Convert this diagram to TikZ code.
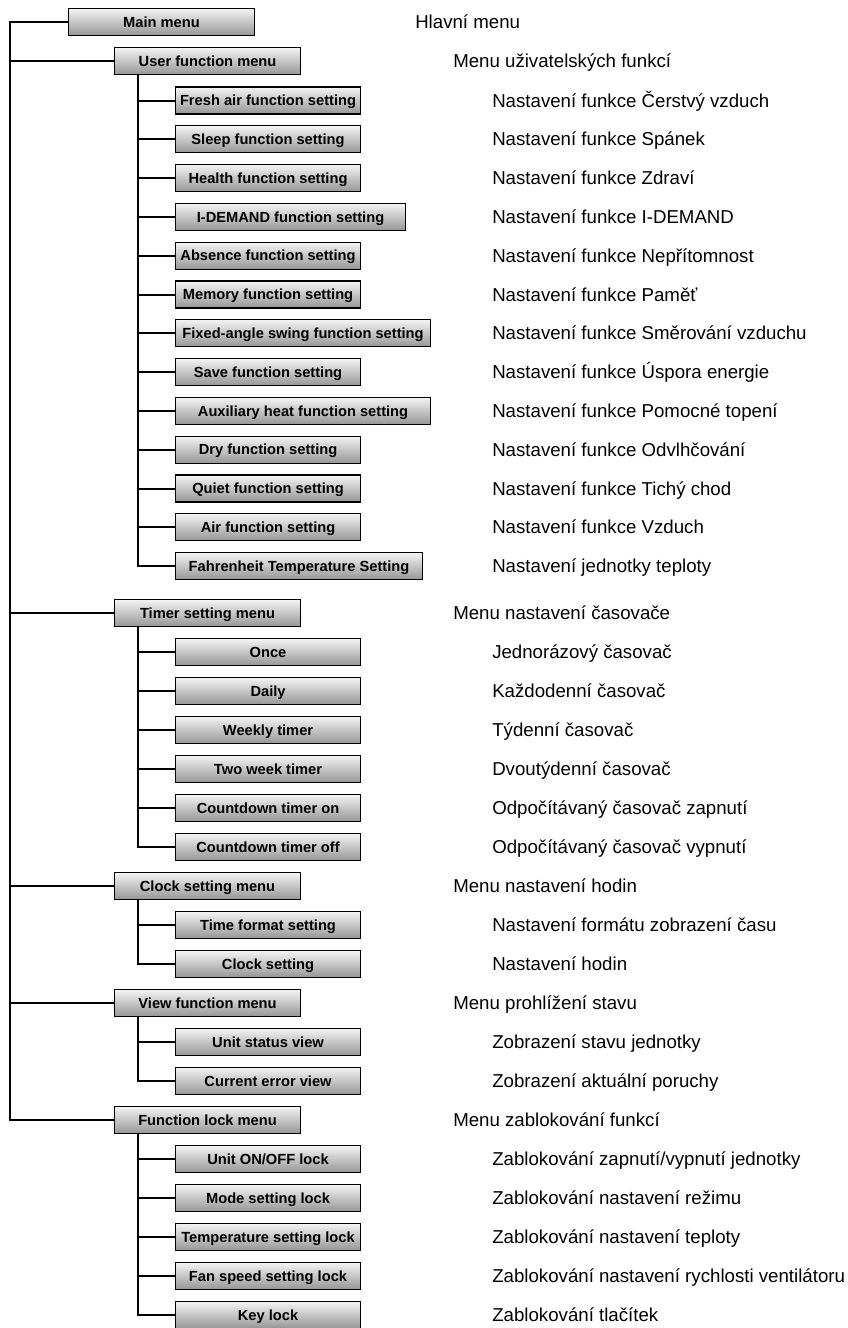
\documentclass[tikz,border=0pt]{standalone}
\usepackage{fontspec}
\setmainfont{Liberation Sans}
\usetikzlibrary{positioning,calc}
\definecolor{BoxTop}{RGB}{244,244,244}
\definecolor{BoxMid}{RGB}{222,222,222}
\definecolor{BoxBottom}{RGB}{150,150,150}
\tikzset{%
  menubox/.style={%
    draw=black, line width=0.8pt, anchor=west,
    top color=BoxTop, middle color=BoxMid, bottom color=BoxBottom,
    minimum height=20.25pt, minimum width=139.5pt, inner sep=0pt,
    text height=7.9pt, text depth=0pt, text centered,
    font=\bfseries\fontsize{11}{13}\selectfont
  },
  subbox/.style={menubox, minimum width=138.75pt},
  desc/.style={anchor=base west, yshift=-5pt, inner sep=0pt,
    font=\fontsize{14}{16}\selectfont},
  link/.style={line width=1.5pt},
}

\begin{document}
\begin{tikzpicture}[x=0.75pt, y=-0.75pt]
    \useasboundingbox (0,0) rectangle (847,1328);

    % first level menus
    \node (main)[menubox] at (68,22) {Main menu};
    \node (user)[menubox] at (114,61) {User function menu};
    \node (timer)[menubox] at (114,613) {Timer setting menu};
    \node (clock)[menubox] at (114,886) {Clock setting menu};
    \node (view)[menubox] at (114,1003) {View function menu};
    \node (lock)[menubox] at (114,1120) {Function lock menu};

    \node (main-cz)[desc] at (415,22) {Hlavní menu};
    \foreach \m/\ry/\cz in {user/61/Menu uživatelských funkcí,
        timer/613/Menu nastavení časovače,
        clock/886/Menu nastavení hodin,
        view/1003/Menu prohlížení stavu,
        lock/1120/Menu zablokování funkcí}
        \node (\m-cz)[desc] at (453,\ry) {\cz};

    % main trunk
    \coordinate (trunk) at ($(main.west)+(-58.5,0)$);
    \draw[link] (main.west) -- (trunk) |- (lock.west);
    \foreach \m in {user,timer,clock,view}
        \draw[link] (trunk |- \m.west) -- (\m.west);

    % user functions
    \foreach \nm/\ry/\bw/\en/\cz in {
        fresh/100.5/138.75pt/Fresh air function setting/Nastavení funkce Čerstvý vzduch,
        sleep/139.3/138.75pt/Sleep function setting/Nastavení funkce Spánek,
        health/178.1/138.75pt/Health function setting/Nastavení funkce Zdraví,
        idemand/216.9/172.5pt/I-DEMAND function setting/Nastavení funkce I-DEMAND,
        absence/255.7/138.75pt/Absence function setting/Nastavení funkce Nepřítomnost,
        memory/294.5/138.75pt/Memory function setting/Nastavení funkce Paměť,
        swing/333.3/191.25pt/Fixed-angle swing function setting/Nastavení funkce Směrování vzduchu,
        save/372.1/138.75pt/Save function setting/Nastavení funkce Úspora energie,
        auxheat/410.9/191.25pt/Auxiliary heat function setting/Nastavení funkce Pomocné topení,
        dry/449.7/138.75pt/Dry function setting/Nastavení funkce Odvlhčování,
        quiet/488.5/138.75pt/Quiet function setting/Nastavení funkce Tichý chod,
        air/527.3/138.75pt/Air function setting/Nastavení funkce Vzduch,
        fahr/566.1/185.25pt/Fahrenheit Temperature Setting/Nastavení jednotky teploty}
    {
        \node (\nm)[subbox, minimum width=\bw] at (175,\ry) {\en};
        \node (\nm-cz)[desc] at (492,\ry) {\cz};
    }
    \coordinate (userbus) at ($(user.south west)+(24,0)$);
    \draw[link] (userbus) |- (fahr.west);
    \foreach \nm in {fresh,sleep,health,idemand,absence,memory,swing,save,auxheat,dry,quiet,air}
        \draw[link] (userbus |- \nm.west) -- (\nm.west);

    % timer
    \foreach \nm/\ry/\en/\cz in {
        once/652/Once/Jednorázový časovač,
        daily/691/Daily/Každodenní časovač,
        weekly/730/Weekly timer/Týdenní časovač,
        twoweek/769/Two week timer/Dvoutýdenní časovač,
        cdon/808/Countdown timer on/Odpočítávaný časovač zapnutí,
        cdoff/847/Countdown timer off/Odpočítávaný časovač vypnutí}
    {
        \node (\nm)[subbox] at (175,\ry) {\en};
        \node (\nm-cz)[desc] at (492,\ry) {\cz};
    }
    \coordinate (timerbus) at ($(timer.south west)+(24,0)$);
    \draw[link] (timerbus) |- (cdoff.west);
    \foreach \nm in {once,daily,weekly,twoweek,cdon}
        \draw[link] (timerbus |- \nm.west) -- (\nm.west);

    % clock
    \node (timefmt)[subbox] at (175,925) {Time format setting};
    \node (clockset)[subbox] at (175,964) {Clock setting};
    \node (timefmt-cz)[desc] at (492,925) {Nastavení formátu zobrazení času};
    \node (clockset-cz)[desc] at (492,964) {Nastavení hodin};
    \coordinate (clockbus) at ($(clock.south west)+(24,0)$);
    \draw[link] (clockbus) |- (clockset.west);
    \draw[link] (clockbus |- timefmt.west) -- (timefmt.west);

    % view
    \node (status)[subbox] at (175,1042) {Unit status view};
    \node (error)[subbox] at (175,1081) {Current error view};
    \node (status-cz)[desc] at (492,1042) {Zobrazení stavu jednotky};
    \node (error-cz)[desc] at (492,1081) {Zobrazení aktuální poruchy};
    \coordinate (viewbus) at ($(view.south west)+(24,0)$);
    \draw[link] (viewbus) |- (error.west);
    \draw[link] (viewbus |- status.west) -- (status.west);

    % locks
    \foreach \nm/\ry/\en/\cz in {
        onoff/1159/{Unit ON/OFF lock}/{Zablokování zapnutí/vypnutí jednotky},
        mode/1198/Mode setting lock/Zablokování nastavení režimu,
        temp/1237/Temperature setting lock/Zablokování nastavení teploty,
        fan/1276/Fan speed setting lock/Zablokování nastavení rychlosti ventilátoru,
        key/1315/Key lock/Zablokování tlačítek}
    {
        \node (\nm)[subbox] at (175,\ry) {\en};
        \node (\nm-cz)[desc] at (492,\ry) {\cz};
    }
    \coordinate (lockbus) at ($(lock.south west)+(24,0)$);
    \draw[link] (lockbus) |- (key.west);
    \foreach \nm in {onoff,mode,temp,fan}
        \draw[link] (lockbus |- \nm.west) -- (\nm.west);
\end{tikzpicture}
\end{document}
